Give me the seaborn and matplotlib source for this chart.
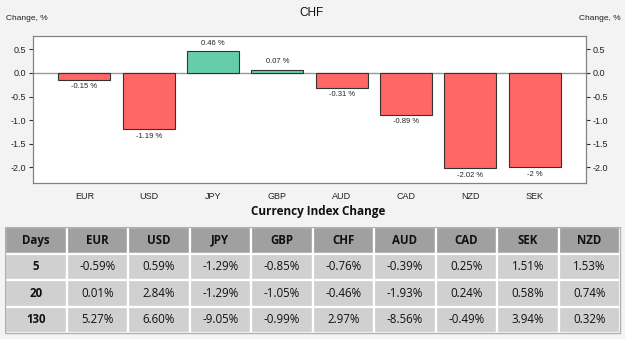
import numpy as np
import pandas as pd
import matplotlib
matplotlib.use("Agg")
import matplotlib.pyplot as plt
import seaborn as sns

# bar chart data (change vs CHF, %)
currencies = ["EUR", "USD", "JPY", "GBP", "AUD", "CAD", "NZD", "SEK"]
changes = [-0.15, -1.19, 0.46, 0.07, -0.31, -0.89, -2.02, -2.0]

# table data
days = ["5", "20", "130"]
table_cols = ["EUR", "USD", "JPY", "GBP", "CHF", "AUD", "CAD", "SEK", "NZD"]
row_5 = ["-0.59%", "0.59%", "-1.29%", "-0.85%", "-0.76%", "-0.39%", "0.25%", "1.51%", "1.53%"]
row_20 = ["0.01%", "2.84%", "-1.29%", "-1.05%", "-0.46%", "-1.93%", "0.24%", "0.58%", "0.74%"]
row_130 = ["5.27%", "6.60%", "-9.05%", "-0.99%", "2.97%", "-8.56%", "-0.49%", "3.94%", "0.32%"]

sns.set_style("white")
plt.rcParams["font.family"] = ["Liberation Sans", "DejaVu Sans"]
plt.rcParams["axes.unicode_minus"] = False

W, H = 625, 339
fig = plt.figure(figsize=(W / 100, H / 100), dpi=100)
fig.patch.set_facecolor("#f3f3f3")

# ---- bar chart ----
ax = fig.add_axes([33 / W, 1 - 183 / H, 553 / W, 147 / H])
ax.set_facecolor("white")
df = pd.DataFrame({"cur": currencies, "chg": changes})
df["sign"] = np.where(df["chg"] >= 0, "up", "down")
sns.barplot(data=df, x="cur", y="chg", hue="sign",
            palette={"up": "#66cdaa", "down": "#ff6666"}, saturation=1,
            dodge=False, legend=False, width=0.81,
            edgecolor="#333333", linewidth=0.8, ax=ax)
ax.axhline(0, color="#999999", lw=1, zorder=0.5)
ax.set_xlim(-0.8, 7.8)
ax.set_ylim(-2.33, 0.78)
yt = [0.5, 0.0, -0.5, -1.0, -1.5, -2.0]
ax.set_yticks(yt)
ax.set_yticklabels([f"{v:.1f}" for v in yt], fontsize=6.5, color="#222222")
ax.tick_params(axis="y", left=True, length=3, width=0.8, color="#333333", pad=2)
ax.tick_params(axis="x", bottom=False, labelsize=6.5, labelcolor="#222222", pad=3)
ax.set_xlabel("")
ax.set_ylabel("")
for s in ax.spines.values():
    s.set_color("#808080")
    s.set_linewidth(0.8)

for i, v in enumerate(changes):
    if v >= 0:
        ax.annotate(f"{v:g} %", (i, v), xytext=(0, 3), textcoords="offset points",
                    ha="center", va="bottom", fontsize=5.5, color="#222222")
    else:
        ax.annotate(f"{v:g} %", (i, v), xytext=(0, -2.5), textcoords="offset points",
                    ha="center", va="top", fontsize=5.5, color="#222222")

ax2 = ax.twinx()
ax2.set_ylim(ax.get_ylim())
ax2.set_yticks(yt)
ax2.set_yticklabels([f"{v:.1f}" for v in yt], fontsize=6.5, color="#222222")
ax2.tick_params(axis="y", right=True, length=3, width=0.8, color="#333333", pad=2)
for s in ax2.spines.values():
    s.set_color("#808080")
    s.set_linewidth(0.8)

fig.text(312 / W, 1 - 13 / H, "CHF", ha="center", va="center", fontsize=8.5, color="#111111")
fig.text(6 / W, 1 - 19 / H, "Change, %", ha="left", va="center", fontsize=6, color="#222222")
fig.text(579 / W, 1 - 19 / H, "Change, %", ha="left", va="center", fontsize=6, color="#222222")

# ---- table ----
fig.text(318 / W, 1 - 212 / H, "Currency Index Change", ha="center", va="center",
         fontsize=8.5, fontweight="bold", family=["Open Sans", "DejaVu Sans"], color="#111111")

tax = fig.add_axes([5 / W, 1 - 333 / H, 615 / W, 106 / H])
tax.axis("off")
cells = [[d] + r for d, r in zip(days, [row_5, row_20, row_130])]
header = ["Days"] + table_cols
tbl = tax.table(cellText=cells, colLabels=header, cellLoc="center",
                bbox=[0, 0, 1, 1])
tbl.auto_set_font_size(False)
for (r, c), cell in tbl.get_celld().items():
    cell.set_edgecolor("white")
    cell.set_linewidth(1.6)
    cell.set_facecolor("#a0a0a0" if r == 0 else "#d0d0d0")
    txt = cell.get_text()
    txt.set_fontsize(8.3)
    txt.set_family(["Open Sans", "DejaVu Sans"])
    txt.set_color("#111111")
    if r == 0 or c == 0:
        txt.set_fontweight("bold")
tax.add_patch(plt.Rectangle((0, 0), 1, 1, transform=tax.transAxes, fill=False,
                            edgecolor="#b0b0b0", lw=1, clip_on=False))

fig.savefig("out.png", dpi=100, facecolor=fig.get_facecolor())
